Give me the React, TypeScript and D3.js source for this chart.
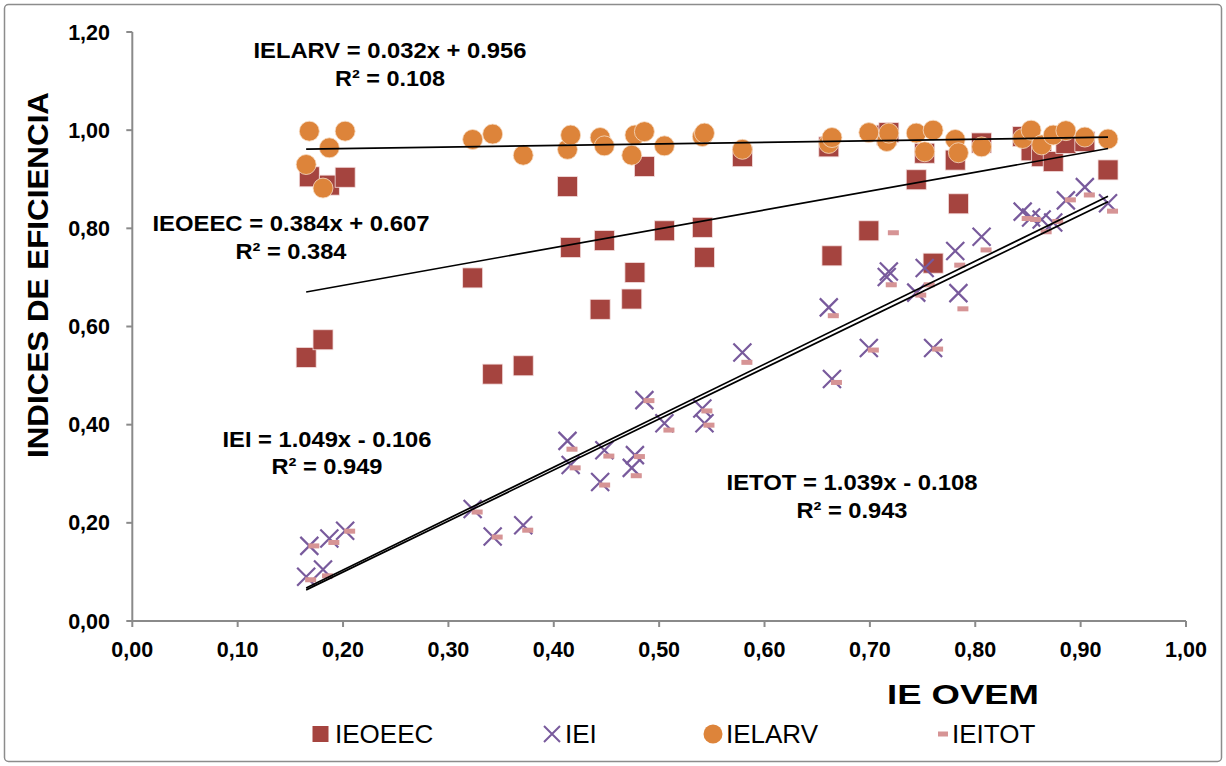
import React from "react";
import * as d3 from "d3";

// IE OVEM (x) for every observation
const ieOvem = [
  0.165, 0.168, 0.181, 0.187, 0.202, 0.323, 0.342, 0.371, 0.413, 0.416,
  0.444, 0.448, 0.474, 0.477, 0.486, 0.505, 0.541, 0.543, 0.579, 0.661,
  0.664, 0.699, 0.716, 0.718, 0.744, 0.752, 0.76, 0.781, 0.784, 0.806,
  0.845, 0.853, 0.863, 0.874, 0.886, 0.904, 0.926,
];

const ieoeec = [
  0.537, 0.905, 0.573, 0.888, 0.904, 0.699, 0.503, 0.52, 0.885, 0.761,
  0.635, 0.775, 0.656, 0.71, 0.926, 0.795, 0.802, 0.741, 0.946, 0.966,
  0.744, 0.795, 0.99, 0.995, 0.899, 0.953, 0.729, 0.939, 0.85, 0.974,
  0.987, 0.958, 0.946, 0.936, 0.973, 0.977, 0.919,
];

const iei = [
  0.09, 0.153, 0.105, 0.168, 0.184, 0.228, 0.172, 0.195, 0.367, 0.318,
  0.283, 0.348, 0.312, 0.338, 0.45, 0.403, 0.433, 0.403, 0.547, 0.639,
  0.493, 0.556, 0.701, 0.712, 0.669, 0.719, 0.556, 0.754, 0.668, 0.783,
  0.834, 0.822, 0.818, 0.812, 0.857, 0.884, 0.851,
];

const ielarv = [
  0.93, 0.998, 0.882, 0.964, 0.998, 0.981, 0.992, 0.949, 0.961, 0.99,
  0.985, 0.968, 0.949, 0.99, 0.997, 0.968, 0.987, 0.994, 0.961, 0.973,
  0.985, 0.995, 0.977, 0.994, 0.994, 0.956, 1.0, 0.981, 0.954, 0.966,
  0.983, 1.0, 0.97, 0.99, 0.999, 0.986, 0.982,
];

const ieitot = [
  0.084, 0.153, 0.092, 0.16, 0.183, 0.222, 0.171, 0.185, 0.35, 0.312,
  0.277, 0.336, 0.296, 0.335, 0.449, 0.389, 0.428, 0.399, 0.527, 0.622,
  0.486, 0.552, 0.685, 0.791, 0.664, 0.685, 0.554, 0.725, 0.636, 0.756,
  0.82, 0.818, 0.793, 0.814, 0.858, 0.868, 0.835,
];

const seriesNames = ["IEOEEC", "IEI", "IELARV", "IEITOT"];

// trendlines as printed on the chart
const trendSlopes = [0.384, 1.049, 0.032, 1.039];
const trendIntercepts = [0.607, -0.106, 0.956, -0.108];
const trendR2 = ["0.384", "0.949", "0.108", "0.943"];
const trendEqText = [
  "IEOEEC = 0.384x + 0.607",
  "IEI = 1.049x - 0.106",
  "IELARV = 0.032x + 0.956",
  "IETOT = 1.039x - 0.108",
];

const xTicks = [0, 0.1, 0.2, 0.3, 0.4, 0.5, 0.6, 0.7, 0.8, 0.9, 1.0];
const yTicks = [0, 0.2, 0.4, 0.6, 0.8, 1.0, 1.2];

const W = 1226;
const H = 766;
const FONT = "'Liberation Sans', Arial, sans-serif";

const C_SQ = "#a5443f";
const C_X = "#785a9c";
const C_CIRC = "#dd843a";
const C_DASH = "#d69495";
const AXIS = "#8a8a8a";

const fmt = d3
  .formatLocale({ decimal: ",", thousands: ".", grouping: [3], currency: ["", "€"] })
  .format(".2f");

// where each equation label sits: centre x, baseline of first line, widths
const eqLabels = [
  { cx: 291, y: 231, w1: 277, w2: 111 },
  { cx: 327, y: 446.5, w1: 209, w2: 111 },
  { cx: 390, y: 58, w1: 273, w2: 110 },
  { cx: 852, y: 490, w1: 251, w2: 111 },
];

export default function App() {
  const x = d3.scaleLinear().domain([0, 1]).range([132.3, 1186]);
  const y = d3.scaleLinear().domain([0, 1.2]).range([621, 32]);

  const xMin = d3.min(ieOvem) as number;
  const xMax = d3.max(ieOvem) as number;
  const line = d3
    .line<[number, number]>()
    .x((d) => x(d[0]))
    .y((d) => y(d[1]));

  const pts = ieOvem.map((v, i) => ({
    x: x(v),
    a: y(ieoeec[i]),
    b: y(iei[i]),
    c: y(ielarv[i]),
    d: y(ieitot[i]),
  }));

  const cross = (cx: number, cy: number, s: number) =>
    `M${cx - s},${cy - s}L${cx + s},${cy + s}M${cx - s},${cy + s}L${cx + s},${cy - s}`;

  const legend = [
    { name: seriesNames[0], mx: 320.5, tx: 335 },
    { name: seriesNames[1], mx: 552, tx: 565 },
    { name: seriesNames[2], mx: 713, tx: 726 },
    { name: seriesNames[3], mx: 943, tx: 952 },
  ];
  const legY = 734;

  return (
    <svg
      width={W}
      height={H}
      style={{ position: "absolute", left: 0, top: 0, background: "#fff" }}
      fontFamily={FONT}
    >
      <rect x={0} y={0} width={W} height={H} fill="#fff" />
      <rect
        x={4.5}
        y={4.5}
        width={W - 9}
        height={H - 9}
        rx={4}
        fill="none"
        stroke="#8c8c8c"
        strokeWidth={1.5}
      />

      {/* axes */}
      <line x1={x(0)} x2={x(1)} y1={y(0)} y2={y(0)} stroke={AXIS} strokeWidth={2} />
      <line x1={x(0)} x2={x(0)} y1={y(0)} y2={y(1.2)} stroke={AXIS} strokeWidth={2} />
      {xTicks.map((t) => (
        <g key={"xt" + t}>
          <line x1={x(t)} x2={x(t)} y1={y(0)} y2={y(0) + 6} stroke={AXIS} strokeWidth={2} />
          <text x={x(t)} y={657} textAnchor="middle" fontSize={21.5} fontWeight="bold">
            {fmt(t)}
          </text>
        </g>
      ))}
      {yTicks.map((t) => (
        <g key={"yt" + t}>
          <line x1={x(0) - 6} x2={x(0)} y1={y(t)} y2={y(t)} stroke={AXIS} strokeWidth={2} />
          <text x={110} y={y(t) + 7.5} textAnchor="end" fontSize={21.5} fontWeight="bold">
            {fmt(t)}
          </text>
        </g>
      ))}

      <text
        transform="translate(48,275) rotate(-90)"
        textAnchor="middle"
        fontSize={29}
        fontWeight="bold"
        textLength={366}
        lengthAdjust="spacingAndGlyphs"
      >
        INDICES DE EFICIENCIA
      </text>
      <text
        x={887}
        y={704}
        fontSize={28}
        fontWeight="bold"
        textLength={152}
        lengthAdjust="spacingAndGlyphs"
      >
        IE OVEM
      </text>

      {/* IEOEEC squares */}
      {pts.map((p, i) => (
        <rect
          key={"sq" + i}
          x={p.x - 10}
          y={p.a - 10}
          width={20}
          height={20}
          fill={C_SQ}
          stroke="#f3dede"
          strokeWidth={0.8}
        />
      ))}
      {/* IEI crosses */}
      {pts.map((p, i) => (
        <path key={"x" + i} d={cross(p.x, p.b, 9)} stroke={C_X} strokeWidth={2.2} fill="none" />
      ))}
      {/* IELARV circles */}
      {pts.map((p, i) => (
        <circle
          key={"c" + i}
          cx={p.x}
          cy={p.c}
          r={10}
          fill={C_CIRC}
          stroke="#f6dcc4"
          strokeWidth={0.8}
        />
      ))}
      {/* IEITOT dashes (Excel draws them a little right of the point) */}
      {pts.map((p, i) => (
        <rect key={"d" + i} x={p.x - 1} y={p.d - 2.5} width={11} height={5} fill={C_DASH} />
      ))}

      {/* trendlines, from min x to max x */}
      {trendSlopes.map((m, i) => {
        const b = trendIntercepts[i];
        const d = line([
          [xMin, m * xMin + b],
          [xMax, m * xMax + b],
        ]);
        return <path key={"t" + i} d={d ?? ""} stroke="#000" strokeWidth={1.7} fill="none" />;
      })}

      {/* equations */}
      {eqLabels.map((l, i) => (
        <g key={"eq" + i} fontWeight="bold" fontSize={22} textAnchor="middle">
          <text x={l.cx} y={l.y} textLength={l.w1} lengthAdjust="spacingAndGlyphs">
            {trendEqText[i]}
          </text>
          <text x={l.cx} y={l.y + 27.5} textLength={l.w2} lengthAdjust="spacingAndGlyphs">
            {"R² = " + trendR2[i]}
          </text>
        </g>
      ))}

      {/* legend */}
      <rect x={legend[0].mx - 8} y={legY - 8} width={16} height={16} fill={C_SQ} />
      <path d={cross(legend[1].mx, legY, 8)} stroke={C_X} strokeWidth={2} fill="none" />
      <circle cx={legend[2].mx} cy={legY} r={9.5} fill={C_CIRC} />
      <rect x={legend[3].mx - 5} y={legY - 2.5} width={10} height={5} fill={C_DASH} />
      {legend.map((l) => (
        <text key={l.name} x={l.tx} y={743} fontSize={26}>
          {l.name}
        </text>
      ))}
    </svg>
  );
}
